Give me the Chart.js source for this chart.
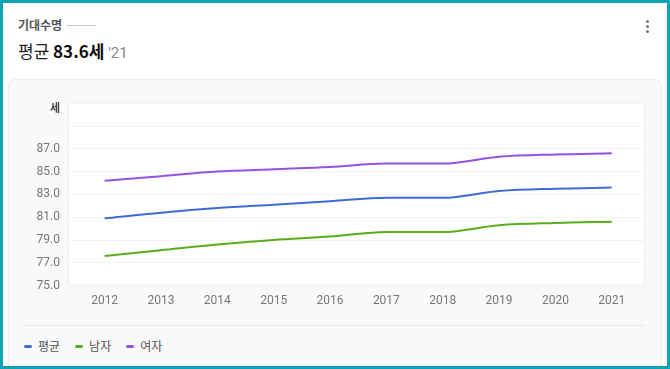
<!DOCTYPE html>
<html>
<head>
<meta charset="utf-8">
<script src="https://cdn.jsdelivr.net/npm/chart.js@4"></script>
<style>
  html, body { margin: 0; padding: 0; }
  body {
    width: 670px; height: 369px; overflow: hidden; position: relative;
    background: #fff; font-family: Roboto, "Noto Sans CJK KR", sans-serif;
  }
  #frame {
    position: absolute; left: 0; top: 0; width: 670px; height: 369px;
    box-sizing: border-box; border: 3px solid #0fa3b5; pointer-events: none; z-index: 10;
  }
  #kicker {
    position: absolute; left: 18px; top: 17px; font-size: 12px; font-weight: 700; color: #555;
    font-family: "Noto Sans CJK KR", sans-serif; line-height: 16px;
  }
  #kicker span {
    display: inline-block; width: 29px; height: 1px; background: #c8c8c8;
    vertical-align: middle; margin-left: 5px; margin-top: -2px;
  }
  #headline {
    position: absolute; left: 18px; top: 40px; font-size: 17px; color: #222; line-height: 22px;
    font-family: "Noto Sans CJK KR", sans-serif;
  }
  #headline b { color: #111; font-weight: 700; }
  #headline small { color: #888; font-size: 15px; font-family: Roboto, sans-serif; }
  #menu { position: absolute; left: 646px; top: 20px; }
  #menu i { display: block; width: 3px; height: 3px; background: #777; border-radius: 50%; margin-bottom: 2px; }
  #card {
    position: absolute; left: 8px; top: 79px; width: 652px; height: 300px;
    background: #f8f9fb; border: 1px solid #eaecef; border-radius: 7px;
  }
  #chart-wrap { position: absolute; left: 8px; top: 88px; width: 653px; height: 220px; }
  #sep { position: absolute; left: 24px; top: 325px; width: 621px; height: 1px; background: #e6e8eb; }
  #legend {
    position: absolute; left: 24px; top: 338px; font-size: 12px; color: #555; line-height: 16px;
    font-family: "Noto Sans CJK KR", sans-serif; display: flex;
  }
  #legend div { display: flex; align-items: center; margin-right: 15px; }
  #legend em { display: inline-block; width: 8px; height: 3px; border-radius: 2px; margin-right: 6px; }
</style>
</head>
<body>
<div id="kicker">기대수명<span></span></div>
<div id="headline">평균 <b>83.6세</b> <small>'21</small></div>
<div id="menu"><i></i><i></i><i></i></div>
<div id="card"></div>
<div id="chart-wrap"><canvas id="graph"></canvas></div>
<div id="sep"></div>
<div id="legend"></div>
<div id="frame"></div>

<script>
const years = ["2012", "2013", "2014", "2015", "2016", "2017", "2018", "2019", "2020", "2021"];
const seriesNames = ["평균", "남자", "여자"];
const seriesColors = ["#3f6bd9", "#5aae1c", "#9155e0"];
const avgLife = [80.9, 81.4, 81.8, 82.1, 82.4, 82.7, 82.7, 83.3, 83.5, 83.6];
const maleLife = [77.6, 78.1, 78.6, 79.0, 79.3, 79.7, 79.7, 80.3, 80.5, 80.6];
const femaleLife = [84.2, 84.6, 85.0, 85.2, 85.4, 85.7, 85.7, 86.3, 86.5, 86.6];
const yTicks = [75, 77, 79, 81, 83, 85, 87];
const yUnit = "세";

const allValues = [avgLife, maleLife, femaleLife];

function toPoints(values){
    return values.map((v, i) => ({ x: Number(years[i]), y: v }));
}

const datasets = seriesNames.map((name, i) => ({
    label: name,
    data: toPoints(allValues[i]),
    borderColor: seriesColors[i],
    backgroundColor: seriesColors[i],
    borderWidth: 2,
    pointRadius: 0,
    cubicInterpolationMode: 'monotone'
}));

// white plot box with thin border, plus the unit label above the y ticks
const plotBox = {
    id: 'plotBox',
    beforeDraw(chart){
        const a = chart.chartArea;
        const ctx = chart.ctx;
        ctx.save();
        ctx.fillStyle = '#ffffff';
        ctx.fillRect(a.left, a.top, a.right - a.left, a.bottom - a.top);
        ctx.strokeStyle = '#eceef1';
        ctx.lineWidth = 1;
        ctx.strokeRect(a.left + 0.5, a.top + 0.5, a.right - a.left - 1, a.bottom - a.top - 1);
        ctx.restore();
    },
    afterDraw(chart){
        const a = chart.chartArea;
        const ctx = chart.ctx;
        ctx.save();
        ctx.font = '700 11px "Noto Sans CJK KR", sans-serif';
        ctx.fillStyle = '#444';
        ctx.textAlign = 'right';
        ctx.textBaseline = 'middle';
        ctx.fillText(yUnit, a.left - 8, a.top + 5);
        ctx.restore();
    }
};

const ctx = document.getElementById('graph');
new Chart(ctx, {
    type: 'line',
    data: { datasets: datasets },
    plugins: [plotBox],
    options: {
        responsive: true,
        maintainAspectRatio: false,
        animation: false,
        layout: { padding: { top: 0, right: 16, left: 0, bottom: 0 } },
        plugins: {
            legend: { display: false },
            tooltip: { enabled: false }
        },
        scales: {
            x: {
                type: 'linear',
                min: 2011.35,
                max: 2021.59,
                grid: { display: false },
                border: { display: false },
                ticks: {
                    stepSize: 1,
                    includeBounds: false,
                    padding: 0,
                    color: '#777',
                    font: { family: 'Roboto', size: 12 },
                    callback: v => years.includes(String(v)) ? String(v) : ''
                }
            },
            y: {
                min: 75,
                max: 91,
                afterFit(scale){ scale.width = 60; },
                grid: { color: '#f2f3f5', lineWidth: 1, drawTicks: false },
                border: { display: false },
                ticks: {
                    stepSize: 2,
                    padding: 8,
                    color: '#777',
                    font: { family: 'Roboto', size: 12 },
                    callback: v => yTicks.includes(v) ? v.toFixed(1) : ''
                }
            }
        }
    }
});

const legendBox = document.getElementById('legend');
legendBox.innerHTML = seriesNames.map((name, i) =>
    `<div><em style="background:${seriesColors[i]}"></em>${name}</div>`).join("");
</script>
</body>
</html>
